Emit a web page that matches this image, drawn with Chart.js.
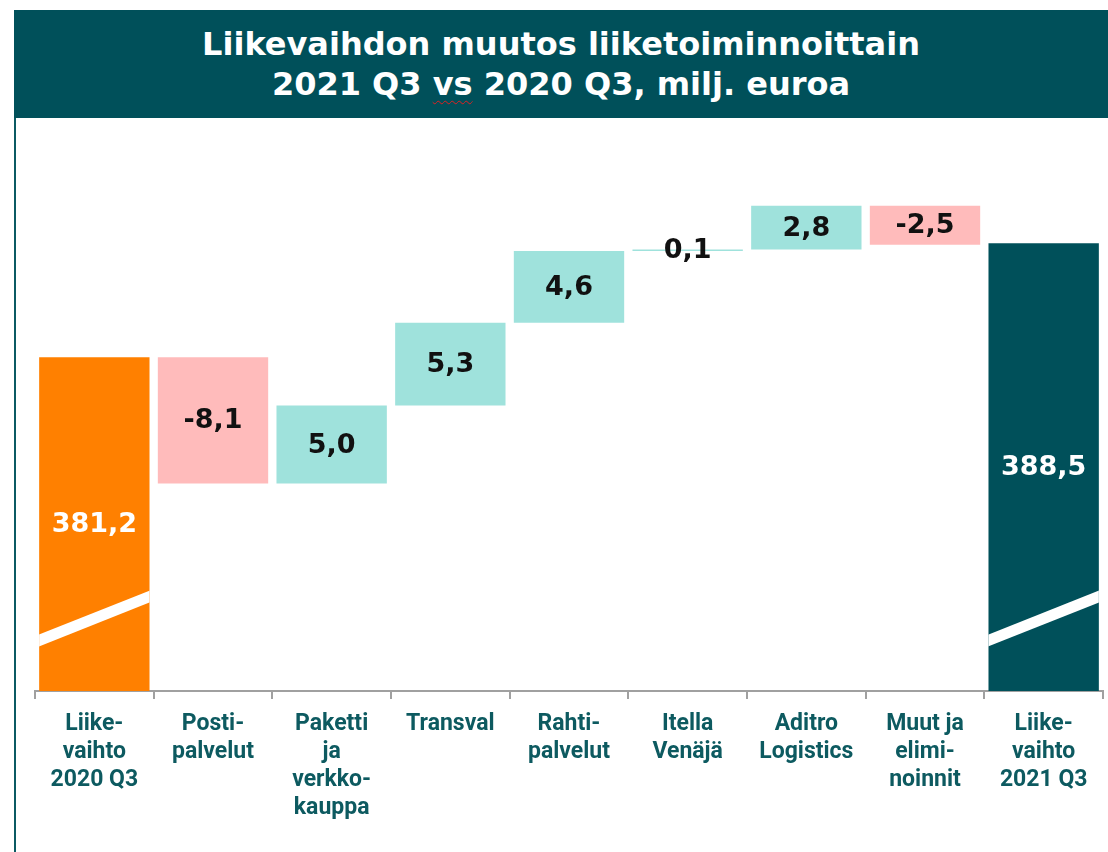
<!DOCTYPE html>
<html>
<head>
    <title>Liikevaihdon muutos liiketoiminnoittain</title>
    <script src="https://cdn.jsdelivr.net/npm/chart.js"></script>
    <style>
        html, body {
            margin: 0;
            padding: 0;
            background: #fff;
            width: 1108px;
            height: 852px;
            overflow: hidden;
        }

        #frame {
            position: absolute;
            left: 14px;
            top: 10px;
            width: 1094px;
            height: 842px;
            border-left: 2px solid #0b5a63;
        }

        #banner {
            position: absolute;
            left: 14px;
            top: 10px;
            width: 1094px;
            height: 108px;
            background: #00505a;
            color: #fff;
            font-family: "DejaVu Sans", sans-serif;
            font-weight: bold;
            font-size: 32px;
            line-height: 40px;
            text-align: center;
            padding-top: 14px;
            box-sizing: border-box;
        }

        #banner .spell {
            text-decoration: underline wavy #e02020;
            text-decoration-thickness: 1px;
            text-underline-offset: 5px;
        }

        #chartBox {
            position: absolute;
            left: 0;
            top: 118px;
            width: 1108px;
            height: 734px;
        }
    </style>
</head>
<body>
    <div id="frame"></div>
    <div id="banner">
        Liikevaihdon muutos liiketoiminnoittain<br>
        2021 Q3 <span class="spell">vs</span> 2020 Q3, milj. euroa
    </div>
    <div id="chartBox">
        <canvas id="waterfall" width="1108" height="734"></canvas>
    </div>

    <script>
        // categories (multi-line labels as in the slide)
        var categories = [
            ["Liike-", "vaihto", "2020 Q3"],
            ["Posti-", "palvelut"],
            ["Paketti", "ja", "verkko-", "kauppa"],
            ["Transval"],
            ["Rahti-", "palvelut"],
            ["Itella", "Venäjä"],
            ["Aditro", "Logistics"],
            ["Muut ja", "elimi-", "noinnit"],
            ["Liike-", "vaihto", "2021 Q3"]
        ];
        var startValue = 381.2;
        var changes = [-8.1, 5.0, 5.3, 4.6, 0.1, 2.8, -2.5];
        var endValue = 388.5;

        // broken axis: visible range of the value scale
        var axisMin = 359.8;
        var axisMax = 395.76;

        var colStart = "#ff8000";
        var colEnd = "#00505a";
        var colUp = "#9fe2dc";
        var colDown = "#ffbbbb";

        // build floating bars
        var ranges = [[axisMin, startValue]];
        var colors = [colStart];
        var labels = [startValue];
        var running = startValue;
        for (var i = 0; i < changes.length; i++) {
            var next = running + changes[i];
            ranges.push([running, next]);
            colors.push(changes[i] < 0 ? colDown : colUp);
            labels.push(changes[i]);
            running = next;
        }
        ranges.push([axisMin, endValue]);
        colors.push(colEnd);
        labels.push(endValue);

        function fmt(v) {
            return v.toFixed(1).replace(".", ",");
        }

        var valueLabels = {
            id: "valueLabels",
            afterDatasetsDraw: function(chart) {
                var ctx = chart.ctx;
                var meta = chart.getDatasetMeta(0);
                ctx.save();
                ctx.font = "bold 27px 'DejaVu Sans', sans-serif";
                ctx.textAlign = "center";
                ctx.textBaseline = "middle";
                meta.data.forEach(function(bar, i) {
                    var isTotal = (i === 0 || i === meta.data.length - 1);
                    var top = Math.min(bar.y, bar.base);
                    var bottom = Math.max(bar.y, bar.base);
                    ctx.fillStyle = isTotal ? "#fff" : "#111";
                    ctx.fillText(fmt(labels[i]), bar.x, (top + bottom) / 2 + 1);
                });
                ctx.restore();
            }
        };

        // white slanted stripe marking the axis break on the total bars
        var axisBreak = {
            id: "axisBreak",
            afterDatasetsDraw: function(chart) {
                var ctx = chart.ctx;
                var meta = chart.getDatasetMeta(0);
                var area = chart.chartArea;
                [0, meta.data.length - 1].forEach(function(i) {
                    var bar = meta.data[i];
                    var half = bar.width / 2;
                    ctx.save();
                    ctx.beginPath();
                    ctx.rect(bar.x - half, area.top, bar.width, area.bottom - area.top);
                    ctx.clip();
                    ctx.strokeStyle = "#fff";
                    ctx.lineWidth = 11;
                    ctx.beginPath();
                    ctx.moveTo(bar.x - half - 14, area.bottom - 45);
                    ctx.lineTo(bar.x + half + 14, area.bottom - 100);
                    ctx.stroke();
                    ctx.restore();
                });
            }
        };

        new Chart(document.getElementById("waterfall"), {
            type: "bar",
            data: {
                labels: categories,
                datasets: [{
                    data: ranges,
                    backgroundColor: colors,
                    borderWidth: 0,
                    categoryPercentage: 1.0,
                    barPercentage: 0.93,
                    borderSkipped: false
                }]
            },
            options: {
                responsive: false,
                animation: false,
                layout: {
                    padding: { left: 35, right: 5, top: 12, bottom: 0 }
                },
                plugins: {
                    legend: { display: false },
                    tooltip: { enabled: false }
                },
                scales: {
                    x: {
                        offset: true,
                        grid: {
                            offset: true,
                            drawOnChartArea: false,
                            tickLength: 8,
                            color: "#a0a0a0",
                            lineWidth: 2
                        },
                        border: { color: "#a0a0a0", width: 2 },
                        ticks: {
                            color: "#0d5a60",
                            padding: 11,
                            maxRotation: 0,
                            autoSkip: false,
                            font: {
                                family: "'Liberation Sans Narrow', 'Roboto', sans-serif",
                                size: 23,
                                weight: "bold",
                                lineHeight: 1.22
                            }
                        },
                        afterFit: function(scale) {
                            scale.height = 161;
                        }
                    },
                    y: {
                        display: false,
                        min: axisMin,
                        max: axisMax
                    }
                }
            },
            plugins: [axisBreak, valueLabels]
        });
    </script>
</body>
</html>
